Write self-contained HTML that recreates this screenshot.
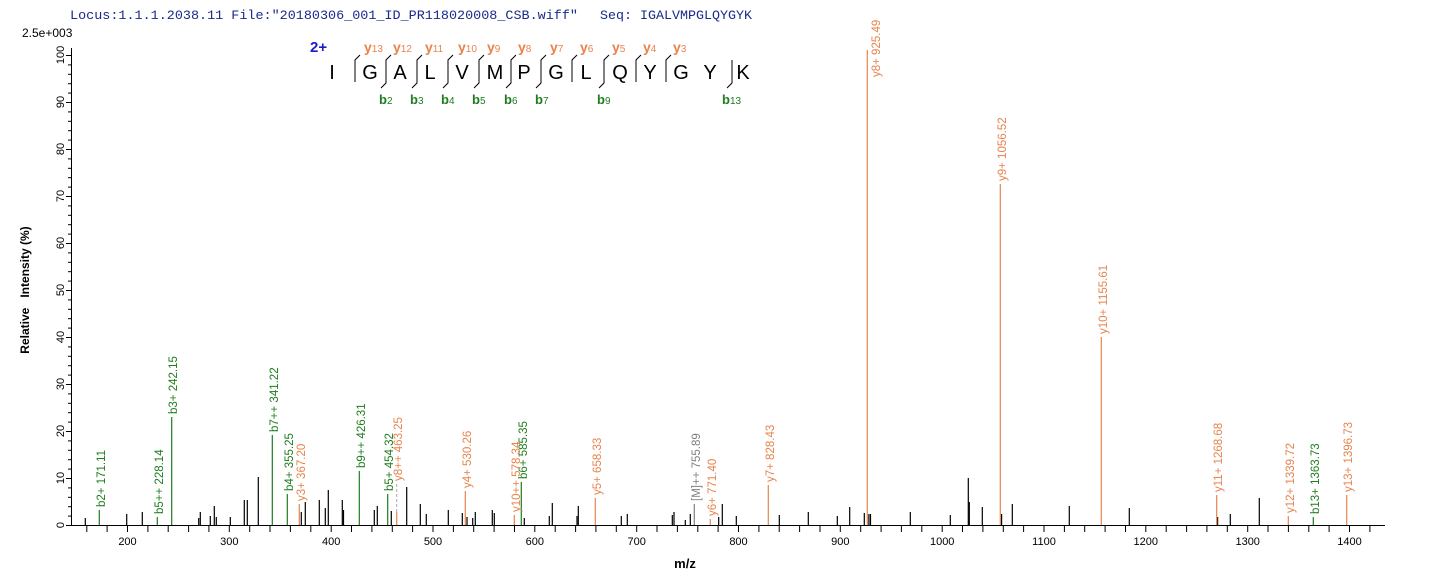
<!DOCTYPE html>
<html><head><meta charset="utf-8"><style>
html,body{margin:0;padding:0;background:#fff;}
svg{display:block;}
text{font-family:"Liberation Sans",sans-serif;}
text.mono{font-family:"Liberation Mono",monospace;}
.lb{font-size:11.5px;}
.g{fill:#1e7d1e;} .o{fill:#e8834c;} .gr{fill:#808080;}
</style></head><body>
<svg width="1436" height="585" viewBox="0 0 1436 585" xmlns="http://www.w3.org/2000/svg">
<text class="mono" x="70" y="19" font-size="13" fill="#1a2a8a" textLength="508" lengthAdjust="spacingAndGlyphs">Locus:1.1.1.2038.11 File:"20180306_001_ID_PR118020008_CSB.wiff"</text>
<text class="mono" x="600" y="19" font-size="13" fill="#1a2a8a" textLength="152" lengthAdjust="spacingAndGlyphs">Seq: IGALVMPGLQYGYK</text>
<text x="22" y="37" font-size="12" fill="#000">2.5e+003</text>

<!-- sequence -->
<text x="310" y="52" font-size="15" font-weight="bold" fill="#1a1ad0">2+</text>
<g font-size="20" fill="#000" text-anchor="middle">
<text x="332" y="79">I</text><text x="370" y="79">G</text><text x="400" y="79">A</text><text x="430" y="79">L</text><text x="462" y="79">V</text><text x="495" y="79">M</text><text x="524" y="79">P</text><text x="556" y="79">G</text><text x="586" y="79">L</text><text x="620" y="79">Q</text><text x="650" y="79">Y</text><text x="681" y="79">G</text><text x="710" y="79">Y</text><text x="743" y="79">K</text>
</g>
<g stroke="#000" stroke-width="1" fill="none">
<path d="M360,55 L355,60 L355,82"/>
<path d="M391,55 L386,60 L386,83 L381,88"/>
<path d="M422,55 L417,60 L417,83 L412,88"/>
<path d="M453,55 L448,60 L448,83 L443,88"/>
<path d="M484,55 L479,60 L479,83 L474,88"/>
<path d="M516,55 L511,60 L511,83 L506,88"/>
<path d="M546,55 L541,60 L541,83 L536,88"/>
<path d="M577,55 L572,60 L572,82"/>
<path d="M609,55 L604,60 L604,83 L599,88"/>
<path d="M641,55 L636,60 L636,82"/>
<path d="M671,55 L666,60 L666,82"/>
<path d="M732,60 L732,83 L727,88"/>
</g>
<g font-weight="bold" class="o" font-size="14">
<text x="364" y="52">y<tspan font-size="10" font-weight="normal">13</tspan></text>
<text x="393" y="52">y<tspan font-size="10" font-weight="normal">12</tspan></text>
<text x="425" y="52">y<tspan font-size="10" font-weight="normal">11</tspan></text>
<text x="458" y="52">y<tspan font-size="10" font-weight="normal">10</tspan></text>
<text x="487" y="52">y<tspan font-size="10" font-weight="normal">9</tspan></text>
<text x="518" y="52">y<tspan font-size="10" font-weight="normal">8</tspan></text>
<text x="550" y="52">y<tspan font-size="10" font-weight="normal">7</tspan></text>
<text x="580" y="52">y<tspan font-size="10" font-weight="normal">6</tspan></text>
<text x="612" y="52">y<tspan font-size="10" font-weight="normal">5</tspan></text>
<text x="643" y="52">y<tspan font-size="10" font-weight="normal">4</tspan></text>
<text x="673" y="52">y<tspan font-size="10" font-weight="normal">3</tspan></text>
</g>
<g font-weight="bold" class="g" font-size="13">
<text x="379" y="104">b<tspan font-size="10" font-weight="normal">2</tspan></text>
<text x="410" y="104">b<tspan font-size="10" font-weight="normal">3</tspan></text>
<text x="441" y="104">b<tspan font-size="10" font-weight="normal">4</tspan></text>
<text x="472" y="104">b<tspan font-size="10" font-weight="normal">5</tspan></text>
<text x="504" y="104">b<tspan font-size="10" font-weight="normal">6</tspan></text>
<text x="535" y="104">b<tspan font-size="10" font-weight="normal">7</tspan></text>
<text x="597" y="104">b<tspan font-size="10" font-weight="normal">9</tspan></text>
<text x="722" y="104">b<tspan font-size="10" font-weight="normal">13</tspan></text>
</g>

<!-- axes -->
<g stroke="#000" stroke-width="1" fill="none">
<line x1="71.5" y1="48" x2="71.5" y2="525.5"/>
<line x1="71" y1="525.5" x2="1385" y2="525.5"/>
</g>
<g stroke="#000" stroke-width="1">
<line x1="66" y1="55.5" x2="71" y2="55.5"/><line x1="68" y1="64.9" x2="71" y2="64.9"/><line x1="68" y1="74.3" x2="71" y2="74.3"/><line x1="68" y1="83.7" x2="71" y2="83.7"/><line x1="68" y1="93.1" x2="71" y2="93.1"/>
<line x1="66" y1="102.5" x2="71" y2="102.5"/><line x1="68" y1="111.9" x2="71" y2="111.9"/><line x1="68" y1="121.3" x2="71" y2="121.3"/><line x1="68" y1="130.7" x2="71" y2="130.7"/><line x1="68" y1="140.1" x2="71" y2="140.1"/>
<line x1="66" y1="149.5" x2="71" y2="149.5"/><line x1="68" y1="158.9" x2="71" y2="158.9"/><line x1="68" y1="168.3" x2="71" y2="168.3"/><line x1="68" y1="177.7" x2="71" y2="177.7"/><line x1="68" y1="187.1" x2="71" y2="187.1"/>
<line x1="66" y1="196.5" x2="71" y2="196.5"/><line x1="68" y1="205.9" x2="71" y2="205.9"/><line x1="68" y1="215.3" x2="71" y2="215.3"/><line x1="68" y1="224.7" x2="71" y2="224.7"/><line x1="68" y1="234.1" x2="71" y2="234.1"/>
<line x1="66" y1="243.5" x2="71" y2="243.5"/><line x1="68" y1="252.9" x2="71" y2="252.9"/><line x1="68" y1="262.3" x2="71" y2="262.3"/><line x1="68" y1="271.7" x2="71" y2="271.7"/><line x1="68" y1="281.1" x2="71" y2="281.1"/>
<line x1="66" y1="290.5" x2="71" y2="290.5"/><line x1="68" y1="299.9" x2="71" y2="299.9"/><line x1="68" y1="309.3" x2="71" y2="309.3"/><line x1="68" y1="318.7" x2="71" y2="318.7"/><line x1="68" y1="328.1" x2="71" y2="328.1"/>
<line x1="66" y1="337.5" x2="71" y2="337.5"/><line x1="68" y1="346.9" x2="71" y2="346.9"/><line x1="68" y1="356.3" x2="71" y2="356.3"/><line x1="68" y1="365.7" x2="71" y2="365.7"/><line x1="68" y1="375.1" x2="71" y2="375.1"/>
<line x1="66" y1="384.5" x2="71" y2="384.5"/><line x1="68" y1="393.9" x2="71" y2="393.9"/><line x1="68" y1="403.3" x2="71" y2="403.3"/><line x1="68" y1="412.7" x2="71" y2="412.7"/><line x1="68" y1="422.1" x2="71" y2="422.1"/>
<line x1="66" y1="431.5" x2="71" y2="431.5"/><line x1="68" y1="440.9" x2="71" y2="440.9"/><line x1="68" y1="450.3" x2="71" y2="450.3"/><line x1="68" y1="459.7" x2="71" y2="459.7"/><line x1="68" y1="469.1" x2="71" y2="469.1"/>
<line x1="66" y1="478.5" x2="71" y2="478.5"/><line x1="68" y1="487.9" x2="71" y2="487.9"/><line x1="68" y1="497.3" x2="71" y2="497.3"/><line x1="68" y1="506.7" x2="71" y2="506.7"/><line x1="68" y1="516.1" x2="71" y2="516.1"/>
<line x1="66" y1="525.5" x2="71" y2="525.5"/>
</g>
<g font-size="11" fill="#000" text-anchor="middle">
<text transform="translate(64,55) rotate(-90)">100</text>
<text transform="translate(64,102) rotate(-90)">90</text>
<text transform="translate(64,149) rotate(-90)">80</text>
<text transform="translate(64,196) rotate(-90)">70</text>
<text transform="translate(64,243) rotate(-90)">60</text>
<text transform="translate(64,290) rotate(-90)">50</text>
<text transform="translate(64,337) rotate(-90)">40</text>
<text transform="translate(64,384) rotate(-90)">30</text>
<text transform="translate(64,431) rotate(-90)">20</text>
<text transform="translate(64,478) rotate(-90)">10</text>
<text transform="translate(64,525) rotate(-90)">0</text>
</g>
<text transform="translate(29,290) rotate(-90)" font-size="12" font-weight="bold" text-anchor="middle">Relative&#160;&#160; Intensity (%)</text>

<g stroke="#000" stroke-width="1">
<line x1="86.8" y1="526" x2="86.8" y2="532"/><line x1="107.1" y1="526" x2="107.1" y2="532"/><line x1="127.5" y1="526" x2="127.5" y2="532"/><line x1="147.9" y1="526" x2="147.9" y2="532"/><line x1="168.2" y1="526" x2="168.2" y2="532"/><line x1="188.6" y1="526" x2="188.6" y2="532"/><line x1="208.9" y1="526" x2="208.9" y2="532"/>
<line x1="229.3" y1="526" x2="229.3" y2="532"/><line x1="249.7" y1="526" x2="249.7" y2="532"/><line x1="270.0" y1="526" x2="270.0" y2="532"/><line x1="290.4" y1="526" x2="290.4" y2="532"/><line x1="310.8" y1="526" x2="310.8" y2="532"/>
<line x1="331.2" y1="526" x2="331.2" y2="532"/><line x1="351.5" y1="526" x2="351.5" y2="532"/><line x1="371.9" y1="526" x2="371.9" y2="532"/><line x1="392.3" y1="526" x2="392.3" y2="532"/><line x1="412.6" y1="526" x2="412.6" y2="532"/>
<line x1="433.0" y1="526" x2="433.0" y2="532"/><line x1="453.4" y1="526" x2="453.4" y2="532"/><line x1="473.7" y1="526" x2="473.7" y2="532"/><line x1="494.1" y1="526" x2="494.1" y2="532"/><line x1="514.5" y1="526" x2="514.5" y2="532"/>
<line x1="534.8" y1="526" x2="534.8" y2="532"/><line x1="555.2" y1="526" x2="555.2" y2="532"/><line x1="575.6" y1="526" x2="575.6" y2="532"/><line x1="595.9" y1="526" x2="595.9" y2="532"/><line x1="616.3" y1="526" x2="616.3" y2="532"/>
<line x1="636.7" y1="526" x2="636.7" y2="532"/><line x1="657.0" y1="526" x2="657.0" y2="532"/><line x1="677.4" y1="526" x2="677.4" y2="532"/><line x1="697.8" y1="526" x2="697.8" y2="532"/><line x1="718.1" y1="526" x2="718.1" y2="532"/>
<line x1="738.5" y1="526" x2="738.5" y2="532"/><line x1="758.9" y1="526" x2="758.9" y2="532"/><line x1="779.2" y1="526" x2="779.2" y2="532"/><line x1="799.6" y1="526" x2="799.6" y2="532"/><line x1="820.0" y1="526" x2="820.0" y2="532"/>
<line x1="840.3" y1="526" x2="840.3" y2="532"/><line x1="860.7" y1="526" x2="860.7" y2="532"/><line x1="881.1" y1="526" x2="881.1" y2="532"/><line x1="901.4" y1="526" x2="901.4" y2="532"/><line x1="921.8" y1="526" x2="921.8" y2="532"/>
<line x1="942.2" y1="526" x2="942.2" y2="532"/><line x1="962.5" y1="526" x2="962.5" y2="532"/><line x1="982.9" y1="526" x2="982.9" y2="532"/><line x1="1003.3" y1="526" x2="1003.3" y2="532"/><line x1="1023.6" y1="526" x2="1023.6" y2="532"/>
<line x1="1044.0" y1="526" x2="1044.0" y2="532"/><line x1="1064.4" y1="526" x2="1064.4" y2="532"/><line x1="1084.7" y1="526" x2="1084.7" y2="532"/><line x1="1105.1" y1="526" x2="1105.1" y2="532"/><line x1="1125.5" y1="526" x2="1125.5" y2="532"/>
<line x1="1145.8" y1="526" x2="1145.8" y2="532"/><line x1="1166.2" y1="526" x2="1166.2" y2="532"/><line x1="1186.6" y1="526" x2="1186.6" y2="532"/><line x1="1206.9" y1="526" x2="1206.9" y2="532"/><line x1="1227.3" y1="526" x2="1227.3" y2="532"/>
<line x1="1247.7" y1="526" x2="1247.7" y2="532"/><line x1="1268.0" y1="526" x2="1268.0" y2="532"/><line x1="1288.4" y1="526" x2="1288.4" y2="532"/><line x1="1308.8" y1="526" x2="1308.8" y2="532"/><line x1="1329.1" y1="526" x2="1329.1" y2="532"/>
<line x1="1349.5" y1="526" x2="1349.5" y2="532"/><line x1="1369.9" y1="526" x2="1369.9" y2="532"/>
</g>
<g font-size="11" fill="#000" text-anchor="middle">
<text x="127.5" y="545">200</text><text x="229.3" y="545">300</text><text x="331.2" y="545">400</text><text x="433" y="545">500</text><text x="534.8" y="545">600</text><text x="636.7" y="545">700</text><text x="738.5" y="545">800</text><text x="840.3" y="545">900</text><text x="942.2" y="545">1000</text><text x="1044" y="545">1100</text><text x="1145.8" y="545">1200</text><text x="1247.7" y="545">1300</text><text x="1349.5" y="545">1400</text>
</g>
<text x="685" y="568" font-size="13" font-weight="bold" text-anchor="middle">m/z</text>

<!-- black peaks -->
<g stroke="#000" stroke-width="1.2">
<line x1="85.3" y1="518" x2="85.3" y2="525"/><line x1="126.7" y1="514" x2="126.7" y2="525"/><line x1="142.3" y1="512" x2="142.3" y2="525"/><line x1="198.7" y1="518" x2="198.7" y2="525"/><line x1="200.3" y1="512" x2="200.3" y2="525"/><line x1="210.3" y1="516" x2="210.3" y2="525"/><line x1="214.3" y1="506" x2="214.3" y2="525"/><line x1="216.3" y1="517" x2="216.3" y2="525"/><line x1="230.3" y1="517" x2="230.3" y2="525"/><line x1="244.3" y1="500" x2="244.3" y2="525"/><line x1="247.3" y1="500" x2="247.3" y2="525"/><line x1="258.3" y1="477" x2="258.3" y2="525"/><line x1="301.3" y1="512" x2="301.3" y2="525"/><line x1="305.3" y1="502" x2="305.3" y2="525"/><line x1="319.3" y1="500" x2="319.3" y2="525"/><line x1="325.3" y1="508" x2="325.3" y2="525"/><line x1="328.3" y1="490" x2="328.3" y2="525"/><line x1="342.3" y1="500" x2="342.3" y2="525"/><line x1="343.5" y1="510" x2="343.5" y2="525"/><line x1="374.3" y1="510" x2="374.3" y2="525"/><line x1="377.3" y1="506" x2="377.3" y2="525"/><line x1="391.3" y1="511" x2="391.3" y2="525"/><line x1="406.7" y1="487" x2="406.7" y2="525"/><line x1="420.3" y1="504" x2="420.3" y2="525"/><line x1="426.3" y1="514" x2="426.3" y2="525"/><line x1="448.3" y1="510" x2="448.3" y2="525"/><line x1="462.3" y1="513" x2="462.3" y2="525"/><line x1="467" y1="517" x2="467" y2="525"/><line x1="472.7" y1="518" x2="472.7" y2="525"/><line x1="475.3" y1="512" x2="475.3" y2="525"/><line x1="492.3" y1="510" x2="492.3" y2="525"/><line x1="494.3" y1="513" x2="494.3" y2="525"/><line x1="524.3" y1="518" x2="524.3" y2="525"/><line x1="549.3" y1="516" x2="549.3" y2="525"/><line x1="552.3" y1="503" x2="552.3" y2="525"/><line x1="577" y1="516" x2="577" y2="525"/><line x1="578.3" y1="506" x2="578.3" y2="525"/><line x1="621.3" y1="516" x2="621.3" y2="525"/><line x1="627.3" y1="514" x2="627.3" y2="525"/><line x1="672.3" y1="515" x2="672.3" y2="525"/><line x1="674" y1="512" x2="674" y2="525"/><line x1="685.3" y1="520" x2="685.3" y2="525"/><line x1="690.3" y1="514" x2="690.3" y2="525"/><line x1="718.7" y1="517" x2="718.7" y2="525"/><line x1="722.3" y1="504" x2="722.3" y2="525"/><line x1="736.3" y1="516" x2="736.3" y2="525"/><line x1="779.3" y1="515" x2="779.3" y2="525"/><line x1="808.3" y1="512" x2="808.3" y2="525"/><line x1="837.3" y1="516" x2="837.3" y2="525"/><line x1="849.7" y1="507" x2="849.7" y2="525"/><line x1="864.3" y1="513" x2="864.3" y2="525"/><line x1="868.9" y1="514" x2="868.9" y2="525"/><line x1="870.5" y1="514" x2="870.5" y2="525"/><line x1="910.3" y1="512" x2="910.3" y2="525"/><line x1="950.3" y1="515" x2="950.3" y2="525"/><line x1="968.3" y1="478" x2="968.3" y2="525"/><line x1="969.3" y1="502" x2="969.3" y2="525"/><line x1="982.3" y1="507" x2="982.3" y2="525"/><line x1="1001.6" y1="514" x2="1001.6" y2="525"/><line x1="1012.3" y1="504" x2="1012.3" y2="525"/><line x1="1069.3" y1="506" x2="1069.3" y2="525"/><line x1="1129.3" y1="508" x2="1129.3" y2="525"/><line x1="1217.6" y1="517" x2="1217.6" y2="525"/><line x1="1230.3" y1="514" x2="1230.3" y2="525"/><line x1="1259.3" y1="498" x2="1259.3" y2="525"/>
</g>
<!-- green peaks -->
<g stroke="#1e7d1e" stroke-width="1.2">
<line x1="99.3" y1="510" x2="99.3" y2="525"/><line x1="157.3" y1="517" x2="157.3" y2="525"/><line x1="171.7" y1="417" x2="171.7" y2="525"/><line x1="272.3" y1="435" x2="272.3" y2="525"/><line x1="287.3" y1="494" x2="287.3" y2="525"/><line x1="359.3" y1="471" x2="359.3" y2="525"/><line x1="387.7" y1="494" x2="387.7" y2="525"/><line x1="521.3" y1="482" x2="521.3" y2="525"/><line x1="1313.3" y1="517" x2="1313.3" y2="525"/>
</g>
<!-- orange peaks -->
<g stroke="#e8834c" stroke-width="1.2">
<line x1="299.3" y1="504" x2="299.3" y2="525"/><line x1="396.7" y1="512" x2="396.7" y2="525"/><line x1="465.3" y1="491" x2="465.3" y2="525"/><line x1="514.3" y1="515" x2="514.3" y2="525"/><line x1="595.3" y1="498" x2="595.3" y2="525"/><line x1="710.3" y1="519" x2="710.3" y2="525"/><line x1="768.3" y1="485" x2="768.3" y2="525"/><line x1="867.3" y1="50" x2="867.3" y2="525"/><line x1="1000.3" y1="184" x2="1000.3" y2="525"/><line x1="1101.3" y1="337" x2="1101.3" y2="525"/><line x1="1216.7" y1="495" x2="1216.7" y2="525"/><line x1="1288.3" y1="516" x2="1288.3" y2="525"/><line x1="1346.7" y1="495" x2="1346.7" y2="525"/>
</g>
<line x1="396.7" y1="484" x2="396.7" y2="512" stroke="#aaa" stroke-width="1" stroke-dasharray="3,2"/>
<line x1="694.3" y1="504" x2="694.3" y2="525" stroke="#808080" stroke-width="1.2"/>

<!-- labels -->
<g class="lb">
<text class="g" transform="translate(104.8,507) rotate(-90)">b2+ 171.11</text>
<text class="g" transform="translate(162.8,514) rotate(-90)">b5++ 228.14</text>
<text class="g" transform="translate(177.2,414) rotate(-90)">b3+ 242.15</text>
<text class="g" transform="translate(277.8,432) rotate(-90)">b7++ 341.22</text>
<text class="g" transform="translate(292.8,491) rotate(-90)">b4+ 355.25</text>
<text class="g" transform="translate(364.8,468) rotate(-90)">b9++ 426.31</text>
<text class="g" transform="translate(393.2,491) rotate(-90)">b5+ 454.32</text>
<text class="g" transform="translate(526.8,479) rotate(-90)">b6+ 585.35</text>
<text class="g" transform="translate(1318.8,514) rotate(-90)">b13+ 1363.73</text>
<text class="o" transform="translate(304.8,501) rotate(-90)">y3+ 367.20</text>
<text class="o" transform="translate(402.2,481) rotate(-90)">y8++ 463.25</text>
<text class="o" transform="translate(470.8,488) rotate(-90)">y4+ 530.26</text>
<text class="o" transform="translate(519.8,512) rotate(-90)">y10++ 578.34</text>
<text class="o" transform="translate(600.8,495) rotate(-90)">y5+ 658.33</text>
<text class="o" transform="translate(715.8,516) rotate(-90)">y6+ 771.40</text>
<text class="o" transform="translate(773.8,482) rotate(-90)">y7+ 828.43</text>
<text class="o" transform="translate(880,77) rotate(-90)">y8+ 925.49</text>
<text class="o" transform="translate(1005.8,181) rotate(-90)">y9+ 1056.52</text>
<text class="o" transform="translate(1106.8,334) rotate(-90)">y10+ 1155.61</text>
<text class="o" transform="translate(1222.2,492) rotate(-90)">y11+ 1268.68</text>
<text class="o" transform="translate(1293.8,513) rotate(-90)">y12+ 1339.72</text>
<text class="o" transform="translate(1352.2,492) rotate(-90)">y13+ 1396.73</text>
<text class="gr" transform="translate(699.8,501) rotate(-90)">[M]++ 755.89</text>
</g>
</svg>
</body></html>
